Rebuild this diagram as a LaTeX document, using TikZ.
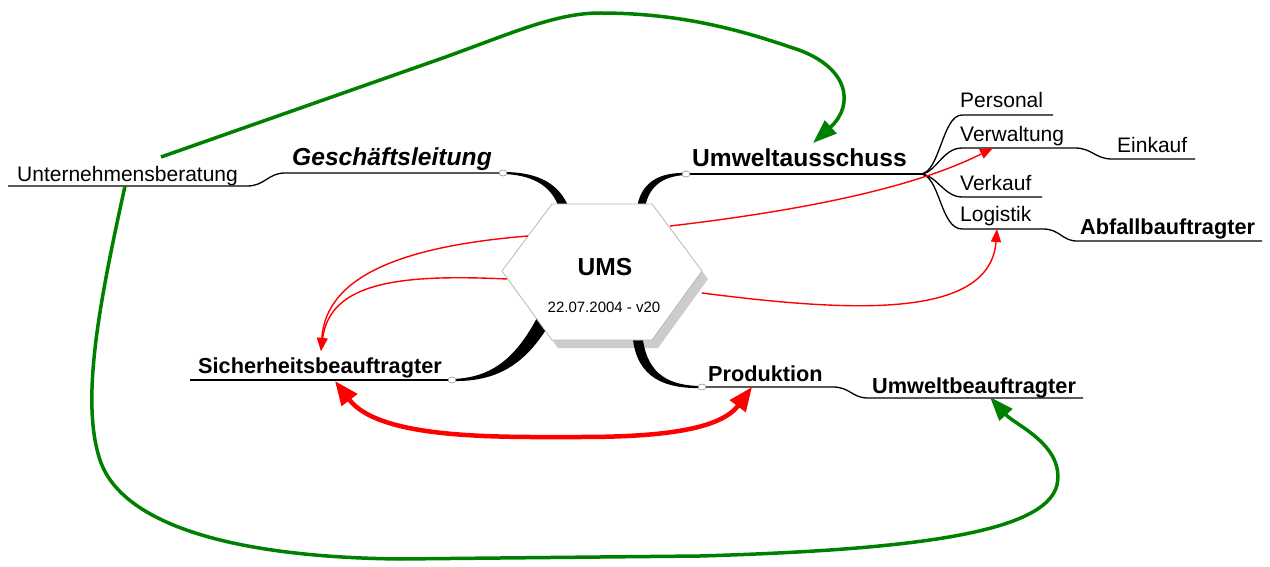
\documentclass[tikz,border=0pt]{standalone}
\usepackage{fontspec}
\setmainfont{Liberation Sans}
\usetikzlibrary{arrows.meta}
\definecolor{mmred}{RGB}{255,0,0}
\definecolor{mmgreen}{RGB}{0,128,0}
\definecolor{hexborder}{RGB}{168,196,168}
\definecolor{hexshadow}{RGB}{204,204,204}
\begin{document}
\begin{tikzpicture}[x=1pt,y=-1pt,
  branch/.style={black, line width=1.3pt},
  knob/.style={draw=gray, fill=white, line width=0.5pt},
  sublabel/.style={anchor=base west, inner sep=0pt, font=\fontsize{21}{25}\selectfont},
  toplabel/.style={anchor=base west, inner sep=0pt, font=\bfseries\fontsize{21.7}{25}\selectfont},
  mainlabel/.style={anchor=base west, inner sep=0pt, font=\bfseries\fontsize{24.6}{28}\selectfont},
  mainitalic/.style={anchor=base west, inner sep=0pt, font=\bfseries\itshape\fontsize{24.6}{28}\selectfont},
  relation/.style={mmred, line width=1.4pt, -{Triangle[length=13pt,width=10pt]}},
  strongrel/.style={mmred, line width=4.5pt, {Triangle[length=24pt,width=19pt]}-{Triangle[length=24pt,width=19pt]}},
  link/.style={mmgreen, line width=3.5pt, -{Triangle[length=24pt,width=17pt]}}
]
\useasboundingbox (0,0) rectangle (1270,567);

% ---------- central topic geometry ----------
\coordinate (h1) at (552,204);
\coordinate (h2) at (652,204);
\coordinate (h3) at (702,271);
\coordinate (h4) at (652,340);
\coordinate (h5) at (552,340);
\coordinate (h6) at (502,271);

% knobs where the main branches leave the centre
\coordinate (gl-knob) at (503,173);
\coordinate (ua-knob) at (686,174);
\coordinate (sb-knob) at (452,380);
\coordinate (pr-knob) at (702,387);
\coordinate (ua-fork) at (920,174);

% drop shadow of the centre
\fill[hexshadow] ([shift={(6,8)}]h1) -- ([shift={(6,8)}]h2) -- ([shift={(6,8)}]h3)
  -- ([shift={(6,8)}]h4) -- ([shift={(6,8)}]h5) -- ([shift={(6,8)}]h6) -- cycle;

% ---------- tapered main branches ----------
\fill[black] (503,172) .. controls (540,172) and (560,185) .. (569,208)
  -- (559,208) .. controls (553,190) and (538,175) .. (503,174) -- cycle;
\fill[black] (686,173) .. controls (655,172) and (640,186) .. (637,208)
  -- (645,208) .. controls (648,189) and (660,176) .. (686,175) -- cycle;
\fill[black] (452,379) .. controls (490,378) and (515,360) .. (538,316)
  -- (550,323) .. controls (525,366) and (495,382) .. (452,381) -- cycle;
\fill[black] (633,340) .. controls (638,378) and (665,389) .. (702,388)
  -- (702,386) .. controls (670,386) and (648,375) .. (643,340) -- cycle;

% ---------- centre ----------
\filldraw[fill=white, draw=hexborder, line width=0.8pt]
  (h1) -- (h2) -- (h3) -- (h4) -- (h5) -- (h6) -- cycle;
\node[font=\bfseries\fontsize{24.6}{28}\selectfont, anchor=base, inner sep=0pt] (ums) at (605,275) {UMS};
\node[font=\fontsize{15}{18}\selectfont, anchor=base, inner sep=0pt] (datum) at (604,312) {22.07.2004 - v20};

% ---------- branch lines ----------
\draw[branch] (8,186) -- (247,186) .. controls (265,186) and (268,173) .. (285,173) -- (gl-knob);
\draw[branch] (ua-knob) -- (ua-fork);
\draw[branch] (ua-fork) .. controls (940,174) and (942,115) .. (962,115) -- (1053,115);
\draw[branch] (ua-fork) .. controls (936,174) and (942,148) .. (962,148) -- (1075,148)
  .. controls (1092,148) and (1095,159) .. (1112,159) -- (1195,159);
\draw[branch] (ua-fork) .. controls (936,174) and (944,197) .. (962,197) -- (1042,197);
\draw[branch] (ua-fork) .. controls (940,174) and (940,229) .. (962,229) -- (1043,229)
  .. controls (1060,229) and (1062,241) .. (1077,241) -- (1262,241);
\draw[branch] (190,380) -- (sb-knob);
\draw[branch] (pr-knob) -- (833,387) .. controls (850,387) and (852,398) .. (868,398) -- (1083,398);

\foreach \k in {gl-knob, ua-knob, sb-knob, pr-knob}
  \filldraw[knob] (\k) ellipse (4 and 3);

% ---------- labels ----------
\node[sublabel] (unternehmensberatung) at (17,182) {Unternehmensberatung};
\node[mainitalic] (geschaeftsleitung) at (292,166) {Geschäftsleitung};
\node[mainlabel] (umweltausschuss) at (692,167) {Umweltausschuss};
\node[sublabel] (personal) at (960,108) {Personal};
\node[sublabel] (verwaltung) at (960,142) {Verwaltung};
\node[sublabel] (einkauf) at (1117,153) {Einkauf};
\node[sublabel] (verkauf) at (960,190) {Verkauf};
\node[sublabel] (logistik) at (960,222) {Logistik};
\node[toplabel] (abfall) at (1080,234) {Abfallbauftragter};
\node[toplabel] (sicherheit) at (198,373) {Sicherheitsbeauftragter};
\node[toplabel] (produktion) at (708,381) {Produktion};
\node[toplabel] (umweltbeauftragter) at (872,393) {Umweltbeauftragter};

% ---------- relationship end points ----------
\coordinate (r-verw-s) at (670,226);
\coordinate (r-verw-e) at (993,148);
\coordinate (r-log-s) at (702,293);
\coordinate (r-log-e) at (997,229);
\coordinate (r-sb1-s) at (528,236);
\coordinate (r-sb2-s) at (507,279);
\coordinate (r-sb-e) at (321,351);
\coordinate (r-sp-a) at (335,381);
\coordinate (r-sp-b) at (752,387);
\coordinate (g-ua-s) at (161,157);
\coordinate (g-ua-e) at (813,143);
\coordinate (g-ub-s) at (125,186);
\coordinate (g-ub-e) at (990,397);

% ---------- red relationships ----------
\draw[relation] (r-verw-s) .. controls (790,212) and (910,190) .. (r-verw-e);
\draw[relation] (r-log-s) .. controls (850,312) and (990,320) .. (r-log-e);
\draw[relation] (r-sb1-s) .. controls (405,246) and (326,275) .. (r-sb-e);
\draw[relation] (r-sb2-s) .. controls (400,274) and (330,282) .. (r-sb-e);
\draw[strongrel] (r-sp-a) .. controls (380,440) and (500,437) .. (580,437)
  .. controls (660,437) and (720,430) .. (r-sp-b);

% ---------- green relationships ----------
\draw[link] (g-ua-s) -- (440,59) .. controls (510,34) and (555,13) .. (600,13)
  .. controls (680,13) and (740,30) .. (790,47)
  .. controls (850,65) and (855,105) .. (g-ua-e);
\draw[link] (g-ub-s) .. controls (100,300) and (80,400) .. (100,460)
  .. controls (120,520) and (220,557) .. (400,559) -- (700,556)
  .. controls (900,550) and (1045,535) .. (1057,485)
  .. controls (1065,445) and (1015,425) .. (g-ub-e);
\end{tikzpicture}
\end{document}
